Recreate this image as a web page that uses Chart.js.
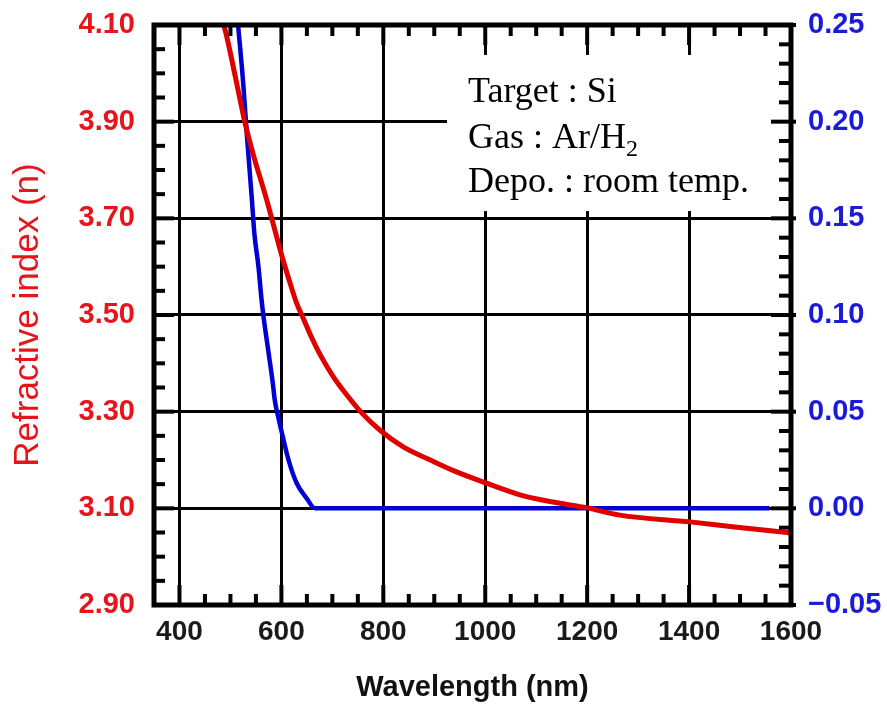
<!DOCTYPE html>
<html>
<head>
<meta charset="utf-8">
<script src="https://cdn.jsdelivr.net/npm/chart.js@4.4.1/dist/chart.umd.min.js"></script>
<style>
  html, body { margin: 0; padding: 0; background: #fff; }
  #wrap { width: 887px; height: 706px; }
</style>
</head>
<body>
<div id="wrap"><canvas id="chart" width="887" height="706"></canvas></div>
<script>
// refractive index n (left axis)
const wavelengthN = [487, 493, 519, 528, 544, 572, 581, 601, 617, 630, 643, 660, 676, 702, 728, 758, 793, 839, 892, 940, 1000, 1068, 1133, 1200, 1264, 1402, 1494, 1600];
const nValues = [4.10, 4.075, 3.945, 3.90, 3.835, 3.735, 3.700, 3.622, 3.566, 3.524, 3.493, 3.452, 3.418, 3.372, 3.335, 3.297, 3.262, 3.227, 3.200, 3.177, 3.153, 3.128, 3.113, 3.101, 3.086, 3.072, 3.061, 3.049];

// extinction coefficient k (right axis)
const wavelengthK = [515, 525, 532, 542, 547, 555, 561, 565, 574, 583, 587, 594, 601, 614, 630, 650, 666, 1558];
const kValues = [0.25, 0.22, 0.194, 0.160, 0.142, 0.125, 0.108, 0.099, 0.082, 0.065, 0.056, 0.047, 0.039, 0.025, 0.013, 0.005, 0.0, 0.0];

const xTicks = [400, 600, 800, 1000, 1200, 1400, 1600];
const nTicks = [2.90, 3.10, 3.30, 3.50, 3.70, 3.90, 4.10];
const kTicks = [-0.05, 0.00, 0.05, 0.10, 0.15, 0.20, 0.25];

const infoLines = ['Target : Si', 'Gas : Ar/H', 'Depo. : room temp.'];

const RED = '#e00000';
const BLUE = '#0000d2';

// inward ticks, frame, and the white text box
const framePlugin = {
  id: 'frame',
  beforeDatasetsDraw(chart) {
    const { ctx, chartArea: a, scales } = chart;
    const left = scales.x.getPixelForValue(925);
    const top = scales.y.getPixelForValue(4.038);
    const bottom = scales.y.getPixelForValue(3.715);
    ctx.save();
    ctx.fillStyle = '#fff';
    ctx.fillRect(left, top, a.right - left, bottom - top);
    ctx.restore();
  },
  afterDatasetsDraw(chart) {
    const { ctx, chartArea: a, scales } = chart;
    ctx.save();
    ctx.strokeStyle = '#000';
    ctx.lineCap = 'butt';

    const tick = (x1, y1, x2, y2, w) => {
      ctx.lineWidth = w;
      ctx.beginPath();
      ctx.moveTo(x1, y1);
      ctx.lineTo(x2, y2);
      ctx.stroke();
    };

    // x ticks (top and bottom)
    for (let v = 400; v <= 1600; v += 50) {
      const px = scales.x.getPixelForValue(v);
      const len = v % 200 === 0 ? 20 : 11;
      tick(px, a.bottom, px, a.bottom - len, 4);
      tick(px, a.top, px, a.top + len, 4);
    }
    // left ticks
    for (let i = 0; i <= 24; i++) {
      const v = 2.90 + i * 0.05;
      const py = scales.y.getPixelForValue(v);
      const len = i % 4 === 0 ? 20 : 11;
      tick(a.left, py, a.left + len, py, 4);
    }
    // right ticks
    for (let i = 0; i <= 30; i++) {
      const v = -0.05 + i * 0.01;
      const py = scales.y2.getPixelForValue(v);
      const len = i % 5 === 0 ? 20 : 12;
      tick(a.right, py, a.right - len, py, 4);
      if (i % 5 === 0) tick(a.right, py, a.right + 5, py, 4);
    }

    // frame
    ctx.lineWidth = 5;
    ctx.strokeRect(a.left, a.top, a.right - a.left, a.bottom - a.top);

    // text box
    const tx = scales.x.getPixelForValue(925) + 21;
    const ty = scales.y.getPixelForValue(4.038);
    ctx.fillStyle = '#000';
    ctx.font = '36px "Liberation Serif", "Times New Roman", serif';
    ctx.textBaseline = 'alphabetic';
    ctx.textAlign = 'left';
    ctx.fillText(infoLines[0], tx, ty + 47);
    ctx.fillText(infoLines[1], tx, ty + 93);
    const w = ctx.measureText(infoLines[1]).width;
    ctx.font = '24px "Liberation Serif", "Times New Roman", serif';
    ctx.fillText('2', tx + w, ty + 101);
    ctx.font = '36px "Liberation Serif", "Times New Roman", serif';
    ctx.fillText(infoLines[2], tx, ty + 137);
    ctx.restore();
  }
};

const fitY = width => axis => {
  axis.width = width;
  axis.paddingTop = 0;
  axis.paddingBottom = 0;
};

const ctx = document.getElementById('chart').getContext('2d');
new Chart(ctx, {
  type: 'line',
  data: {
    datasets: [
      {
        label: 'n',
        data: wavelengthN.map((x, i) => ({ x, y: nValues[i] })),
        borderColor: RED,
        borderWidth: 5,
        pointRadius: 0,
        cubicInterpolationMode: 'monotone',
        yAxisID: 'y',
        clip: 0
      },
      {
        label: 'k',
        data: wavelengthK.map((x, i) => ({ x, y: kValues[i] })),
        borderColor: BLUE,
        borderWidth: 4.5,
        pointRadius: 0,
        cubicInterpolationMode: 'monotone',
        yAxisID: 'y2',
        clip: 0
      }
    ]
  },
  options: {
    responsive: false,
    animation: false,
    layout: { padding: { top: 25, left: 0, right: 0, bottom: 0 } },
    plugins: {
      legend: { display: false },
      tooltip: { enabled: false }
    },
    scales: {
      x: {
        type: 'linear',
        min: 350,
        max: 1600,
        afterBuildTicks: axis => { axis.ticks = xTicks.map(v => ({ value: v })); },
        afterFit: axis => { axis.height = 101; },
        border: { display: false },
        grid: { color: '#000', lineWidth: 3, drawTicks: false },
        ticks: {
          color: '#1a1a1a',
          padding: 10,
          maxRotation: 0,
          font: { family: '"Liberation Sans", Arial, sans-serif', size: 28, weight: 'bold' },
          callback: v => String(v)
        },
        title: {
          display: true,
          text: 'Wavelength (nm)',
          color: '#111',
          padding: { top: 0, bottom: 1 },
          font: { family: '"Liberation Sans", Arial, sans-serif', size: 29, weight: 'bold' }
        }
      },
      y: {
        position: 'left',
        min: 2.9,
        max: 4.1,
        afterBuildTicks: axis => { axis.ticks = nTicks.map(v => ({ value: v })); },
        afterFit: fitY(154),
        border: { display: false },
        grid: { color: '#000', lineWidth: 3, drawTicks: false },
        ticks: {
          color: '#e8141b',
          padding: 19,
          font: { family: '"Liberation Sans", Arial, sans-serif', size: 29, weight: 'bold' },
          callback: v => Number(v).toFixed(2)
        },
        title: {
          display: true,
          text: 'Refractive index (n)',
          color: '#e8141b',
          padding: { top: 7, bottom: 0 },
          font: { family: '"Liberation Sans", Arial, sans-serif', size: 35 }
        }
      },
      y2: {
        position: 'right',
        min: -0.05,
        max: 0.25,
        afterBuildTicks: axis => { axis.ticks = kTicks.map(v => ({ value: v })); },
        afterFit: fitY(96),
        border: { display: false },
        grid: { display: false, drawTicks: false },
        ticks: {
          color: '#1a1ad8',
          padding: 17,
          font: { family: '"Liberation Sans", Arial, sans-serif', size: 29, weight: 'bold' },
          callback: v => (v < 0 ? '\u2212' + Math.abs(v).toFixed(2) : Number(v).toFixed(2))
        }
      }
    }
  },
  plugins: [framePlugin]
});
</script>
</body>
</html>
